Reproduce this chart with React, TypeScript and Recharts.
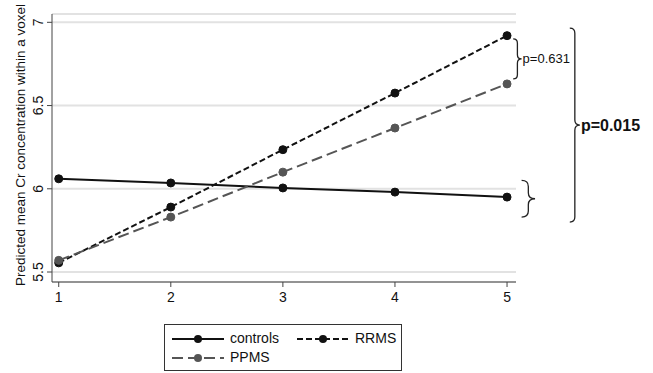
import {
  LineChart, Line, XAxis, YAxis, CartesianGrid, Legend, ReferenceArea,
} from "recharts"

const voxels = [1, 2, 3, 4, 5]
const controls = [6.06, 6.035, 6.005, 5.98, 5.95]
const rrms = [5.555, 5.89, 6.235, 6.575, 6.92]
const ppms = [5.57, 5.83, 6.1, 6.365, 6.63]

const yTicks = [5.5, 6, 6.5, 7]
const xTicks = [1, 2, 3, 4, 5]

const SERIES = [
  { key: "controls", name: "controls", color: "#111", dash: undefined as string | undefined },
  { key: "rrms", name: "RRMS", color: "#111", dash: "6 3" },
  { key: "ppms", name: "PPMS", color: "#555", dash: "11 5" },
]

// braces to the right of the plot, in data units
const braces = [
  { x1: 5.055, x2: 5.13, y1: 6.66, y2: 6.9, label: "p=0.631", bold: false },
  { x1: 5.13, x2: 5.25, y1: 5.83, y2: 6.05, label: "", bold: false },
  { x1: 5.56, x2: 5.65, y1: 5.8, y2: 6.965, label: "p=0.015", bold: true },
]

const FONT = "'Liberation Sans', Arial, sans-serif"

const data = voxels.map((v, i) => ({
  voxel: v,
  controls: controls[i],
  rrms: rrms[i],
  ppms: ppms[i],
}))

function braceShape(label: string, bold: boolean) {
  return (props: any) => {
    const { x, y, width, height } = props
    const x0 = x
    const x1 = x + width
    const xm = x + width / 2
    const y0 = y
    const y1 = y + height
    const mid = y + height / 2
    const r = Math.min(width / 2, 6)
    const d = `M${x0},${y0} Q${xm},${y0} ${xm},${y0 + r} L${xm},${mid - r} Q${xm},${mid} ${x1},${mid} `
      + `Q${xm},${mid} ${xm},${mid + r} L${xm},${y1 - r} Q${xm},${y1} ${x0},${y1}`
    return (
      <g>
        <path d={d} fill="none" stroke="#222" strokeWidth={1.3} />
        {label && (
          <text
            x={x1 + 1}
            y={mid}
            dy="0.35em"
            fontFamily={FONT}
            fontSize={bold ? 16 : 13}
            fontWeight={bold ? "bold" : "normal"}
            fill="#111"
          >
            {label}
          </text>
        )}
      </g>
    )
  }
}

const YTick = (props: any) => {
  const { x, y, payload } = props
  return (
    <text
      x={x - 2}
      y={y}
      transform={`rotate(-90, ${x - 2}, ${y})`}
      textAnchor="middle"
      fontFamily={FONT}
      fontSize={14}
      fill="#111"
    >
      {payload.value}
    </text>
  )
}

const LegendBox = () => {
  const sample = (s: typeof SERIES[number]) => (
    <svg width={52} height={12} style={{ verticalAlign: "middle" }}>
      <line x1={0} y1={6} x2={52} y2={6} stroke={s.color} strokeWidth={2} strokeDasharray={s.dash} />
      <circle cx={26} cy={6} r={4} fill={s.color} />
    </svg>
  )
  const cell = (s: typeof SERIES[number], w: number) => (
    <div style={{ display: "flex", alignItems: "center", width: w }}>
      {sample(s)}
      <span style={{ marginLeft: 6 }}>{s.name}</span>
    </div>
  )
  return (
    <div
      style={{
        border: "1px solid #333",
        boxSizing: "border-box",
        width: 238,
        height: 47,
        padding: "4px 0 0 7px",
        fontFamily: FONT,
        fontSize: 14,
        color: "#111",
        lineHeight: "19px",
        background: "#fff",
      }}
    >
      <div style={{ display: "flex" }}>
        {cell(SERIES[0], 125)}
        {cell(SERIES[1], 100)}
      </div>
      <div style={{ display: "flex" }}>{cell(SERIES[2], 125)}</div>
    </div>
  )
}

export default function App() {
  return (
    <div style={{ position: "absolute", left: 0, top: 0, background: "#fff" }}>
      <LineChart
        width={653}
        height={373}
        data={data}
        margin={{ top: 14, right: 137, bottom: 61, left: 12 }}
      >
        <CartesianGrid horizontal vertical={false} stroke="#e2e2e2" strokeWidth={2} />
        <XAxis
          dataKey="voxel"
          type="number"
          domain={[0.94, 5.08]}
          ticks={xTicks}
          height={30}
          stroke="#444"
          tickSize={5}
          tick={{ fontSize: 14, fontFamily: FONT, fill: "#111", dy: 3 }}
          label={{ value: "VOXEL", position: "insideBottom", offset: -22, fontSize: 14, fontFamily: FONT, fill: "#111" }}
        />
        <YAxis
          type="number"
          domain={[5.44, 7.05]}
          ticks={yTicks}
          width={40}
          stroke="#444"
          tickSize={5}
          tick={<YTick />}
          label={{
            value: "Predicted mean Cr concentration within a voxel",
            angle: -90,
            position: "insideLeft",
            offset: 8,
            dy: -3,
            style: { textAnchor: "middle" },
            fontSize: 13.5,
            fontFamily: FONT,
            fill: "#111",
          }}
        />
        {SERIES.map(s => (
          <Line
            key={s.key}
            dataKey={s.key}
            name={s.name}
            stroke={s.color}
            strokeWidth={2}
            strokeDasharray={s.dash}
            dot={{ r: 4, fill: s.color, stroke: s.color, strokeWidth: 1, strokeDasharray: "" }}
            isAnimationActive={false}
          />
        ))}
        {braces.map((b, i) => (
          <ReferenceArea
            key={i}
            x1={b.x1}
            x2={b.x2}
            y1={b.y1}
            y2={b.y2}
            ifOverflow="visible"
            shape={braceShape(b.label, b.bold)}
          />
        ))}
        <Legend
          layout="horizontal"
          verticalAlign="middle"
          align="center"
          content={<LegendBox />}
          wrapperStyle={{ left: 164, top: 324, width: 238, height: 47 }}
        />
      </LineChart>
    </div>
  )
}
